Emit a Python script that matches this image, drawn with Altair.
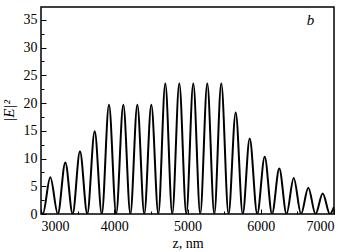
import altair as alt
import pandas as pd

# peak positions (nm) and heights
peak_z = [3127, 3332, 3532, 3733, 3928, 4124, 4315, 4506, 4697, 4888,
          5079, 5270, 5461, 5658, 5849, 6054, 6253, 6450, 6649, 6846]
peak_v = [6.6, 9.3, 11.3, 14.9, 19.7, 19.7, 19.7, 19.7, 23.5, 23.5,
          23.5, 23.5, 23.5, 18.3, 13.6, 10.3, 8.2, 6.5, 4.75, 3.7]
# minima (nm), value ~0
valley_z = [3025, 3230, 3432, 3632, 3830, 4026, 4220, 4410, 4602, 4792,
            4984, 5174, 5366, 5560, 5754, 5952, 6154, 6352, 6550, 6748, 6944]
valley_v = [0.0] * len(valley_z)
start_z, start_v = 3000, 0.4
end_z, end_v = 7000, 1.3

x_labels = [3000, 4000, 5000, 6000, 7000]
x_minor = [3500, 4500, 5500, 6500]
y_labels = [0, 5, 10, 15, 20, 25, 30, 35]
y_minor = [2.5, 7.5, 12.5, 17.5, 22.5, 27.5, 32.5]

pts = [(start_z, start_v)]
for i in range(len(peak_z)):
    pts.append((valley_z[i], valley_v[i]))
    pts.append((peak_z[i], peak_v[i]))
pts.append((valley_z[-1], valley_v[-1]))
pts.append((end_z, end_v))
df = pd.DataFrame(pts, columns=["z", "E2"])

FONT = "Liberation Serif"
xs = alt.Scale(domain=[3000, 7000], nice=False, zero=False)
ys = alt.Scale(domain=[0, 37.3], nice=False, zero=False)

W, H = 293, 207

main = alt.Chart(df).mark_line(color="black", strokeWidth=2, interpolate="monotone", clip=True).encode(
    x=alt.X("z:Q", scale=xs, axis=alt.Axis(
        orient="bottom", values=x_labels, format="d", ticks=False, domain=False, grid=False,
        labelFont=FONT, labelFontSize=14, labelColor="black", labelPadding=5,
        title="z,  nm", titleFont=FONT, titleFontSize=14, titleFontWeight="normal",
        titleColor="black", titlePadding=3)),
    y=alt.Y("E2:Q", scale=ys, axis=alt.Axis(
        orient="left", values=y_labels, format="d", ticks=False, domain=False, grid=False,
        labelFont=FONT, labelFontSize=14, labelColor="black", labelPadding=4,
        title="|E|²", titleFont=FONT, titleFontSize=15, titleFontWeight="normal",
        titleFontStyle="italic", titleColor="black", titlePadding=7)),
)

minor = alt.Chart(df).mark_line(opacity=0).encode(
    x=alt.X("z:Q", scale=xs, axis=alt.Axis(
        orient="top", offset=-H, values=x_minor, labels=False, domain=False, grid=False,
        ticks=True, tickSize=3, tickColor="black", tickWidth=1, title=None)),
    y=alt.Y("E2:Q", scale=ys, axis=alt.Axis(
        orient="right", offset=-W, values=y_minor, labels=False, domain=False, grid=False,
        ticks=True, tickSize=3, tickColor="black", tickWidth=1, title=None)),
)

major = alt.Chart(df).mark_line(opacity=0).encode(
    x=alt.X("z:Q", scale=xs, axis=alt.Axis(
        orient="top", offset=-H, values=x_labels, labels=False, domain=False, grid=False,
        ticks=True, tickSize=5, tickColor="black", tickWidth=1, title=None)),
    y=alt.Y("E2:Q", scale=ys, axis=alt.Axis(
        orient="right", offset=-W, values=y_labels, labels=False, domain=False, grid=False,
        ticks=True, tickSize=5, tickColor="black", tickWidth=1, title=None)),
)

panel = pd.DataFrame({"z": [6680], "E2": [34.1], "t": ["b"]})
label = alt.Chart(panel).mark_text(font=FONT, fontSize=15, fontStyle="italic", color="black",
                                   align="center", baseline="alphabetic").encode(
    x=alt.X("z:Q", scale=xs, axis=None), y=alt.Y("E2:Q", scale=ys, axis=None), text="t:N")

chart = alt.layer(main, minor, major, label).resolve_axis(x="independent", y="independent").properties(
    width=W, height=H,
    padding={"left": 41, "top": 7, "right": 24, "bottom": 38},
    autosize=alt.AutoSizeParams(type="none"),
    background="white",
).configure_view(stroke="black", strokeWidth=1.5)

chart.save("out.html", embed_options={"renderer": "svg", "actions": False})
